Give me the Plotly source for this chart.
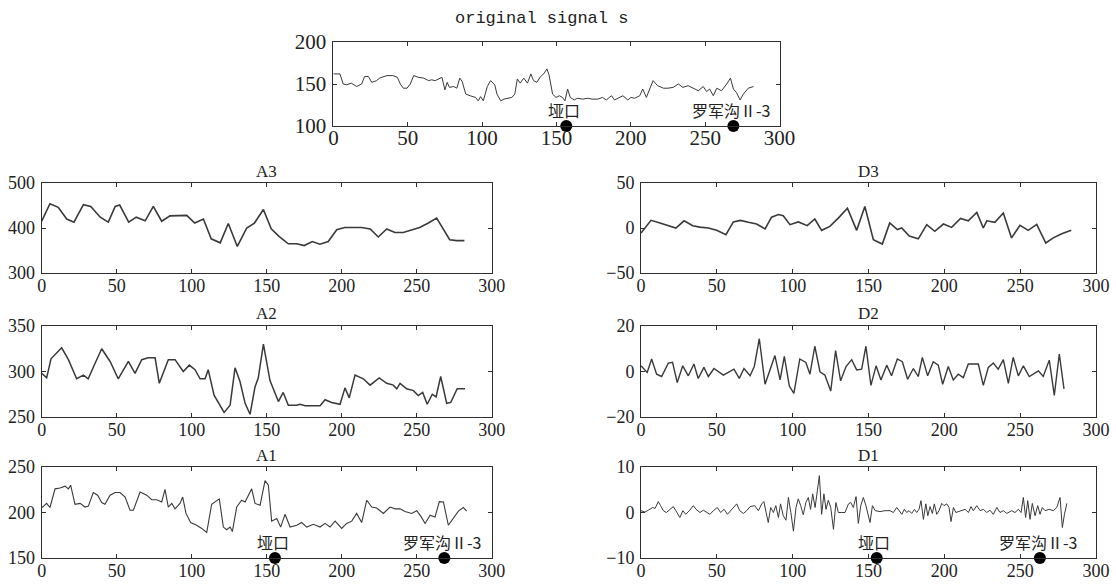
import plotly.graph_objects as go

W, H = 1116, 588

# ---------------- data ----------------
s_x = [0, 4.4, 6.6, 9, 12, 15.7, 19, 21, 23.5, 25.8, 29, 31, 36, 40, 43, 45, 47, 49.5, 51.7, 54, 57,
       60.7, 64, 66, 68.5, 71, 73, 75, 76.5, 78, 81, 83, 85, 86.6, 89, 92, 95.6, 97.4, 99, 100.8,
       103.5, 105.7, 108.5, 110, 112.5, 114.7, 118, 120, 122, 123.7, 125.6, 128, 130.5, 132.8,
       134.6, 136.8, 139, 141.8, 143.6, 145, 147.4, 149.7, 152, 154, 155.7, 157.5, 159.3, 162,
       164, 167.7, 171, 174, 177.8, 181, 183.5, 187, 189, 192.4, 194.7, 198, 200, 202.6, 206,
       208, 210.5, 212.7, 215, 218, 222, 225, 228.5, 232, 235, 238.6, 243, 245.4, 248.7, 251,
       253, 255.5, 257.8, 261, 264.5, 267, 269, 271, 273.5, 275.7, 279, 282.5]
s_y = [162, 162, 150, 149, 151, 147, 150, 159, 159, 152, 154, 157, 160, 160, 158, 150, 145, 145,
       150, 160, 158, 157, 154, 155, 154, 156, 158, 143, 152, 146, 147, 145, 157, 153, 138, 136,
       134, 130, 135, 130, 147, 154, 149, 138, 130, 132, 133, 134, 138, 156, 151, 157, 151, 162,
       154, 152, 158, 163, 168, 161, 138, 134, 136, 134, 130, 144, 134, 131, 133, 132, 133, 132,
       132, 134, 131, 136, 131, 134, 136, 131, 134, 133, 136, 144, 134, 144, 154, 148, 145, 145,
       146, 150, 146, 148, 144, 142, 147, 141, 144, 136, 145, 142, 150, 157, 144, 140, 131, 138,
       145, 147]

a3_x = [0, 5.5, 11, 16.7, 21.5, 27.8, 32.7, 39, 44.4, 49, 52, 58, 63, 69, 74.4, 80, 85.5, 91,
        96.7, 102, 107.8, 113, 119, 124.4, 130.4, 136.7, 141.8, 147.8, 153, 158.4, 164.4, 170,
        175, 180.4, 185.5, 191, 196.7, 202, 207.8, 213.3, 219, 224.4, 230, 235.5, 241, 246.7,
        252, 257.8, 263.3, 272, 276.7, 281.8]
a3_y = [415, 454, 446, 420, 413, 452, 448, 424, 413, 448, 451, 413, 424, 416, 448, 415, 427, 428,
        428, 411, 420, 376, 367, 410, 359, 400, 411, 441, 398, 381, 365, 365, 361, 370, 364, 370,
        396, 401, 401, 401, 398, 380, 398, 390, 390, 396, 401, 411, 422, 374, 372, 372]

d3_x = [0, 6.6, 12.5, 18.0, 23.0, 28.4, 34.1, 38.8, 44.4, 49.9, 56.0, 60.9, 65.6, 70.8, 76.2,
        81.8, 86.1, 90.6, 93.8, 98.2, 103.7, 109.6, 114.6, 119.1, 124.5, 130.1, 136.1, 142.2,
        147.6, 153.2, 159.1, 164.0, 169.0, 171.9, 176.9, 182.8, 188.4, 193.7, 199.4, 204.8,
        210.7, 215.8, 221.4, 225.7, 228.0, 233.3, 238.9, 244.3, 249.9, 255.3, 260.9, 266.9,
        271.8, 277.4, 283.7]
d3_y = [-5.6, 8.5, 5.6, 3, 0, 8, 2.6, 1, 0, -2.6, -7.4, 6.7, 8.5, 6.3, 4.4, -1, 12, 15, 13.7,
        3.7, 6.7, 2.6, 10, -2.6, 1.8, 11, 22, -2.6, 24, -13, -17.8, 5.6, -1.8, 0, -9, -12, 3.7,
        -3.7, 4.4, 0.7, 10.7, 8, 17.4, 0, 8, 6.3, 16.7, -11, 3, -2.6, 4, -16.7, -11, -6.3, -2.6]

a2_x = [0, 3.3, 6.2, 13.3, 17.8, 23.3, 27.8, 31, 35.6, 40, 45.6, 51, 57.8, 62.2, 66.7, 71, 75.6,
        78.4, 84.4, 88.9, 94.4, 98.4, 102.2, 105.6, 108.9, 111, 114.9, 121.6, 125.6, 128.9,
        132.2, 135.6, 138.9, 142.2, 144.4, 147.8, 152.2, 157.8, 161, 164.4, 170, 172.2, 175.6,
        185.6, 188.9, 193.3, 198.9, 202.2, 205, 208.9, 214.4, 218.9, 225, 230, 234.4, 236.7,
        238.9, 243.3, 247.8, 251, 254, 257, 260.4, 262.9, 266, 270, 272.7, 277, 282.2]
a2_y = [298, 293, 314, 326, 313, 292, 296, 292, 309, 325, 311, 292, 311, 298, 313, 315, 315, 287,
        313, 313, 300, 307, 302, 292, 292, 302, 274, 255, 263, 304, 289, 265, 253, 283, 293, 330,
        290, 267, 277, 263, 263, 264, 262.5, 262.5, 269, 266, 264, 282, 271, 296, 292, 285, 293,
        287, 285, 281, 287, 281, 279, 273.5, 277, 264, 275, 272, 294.5, 265, 266, 281, 281]

d2_x = [0, 4.1, 7.0, 10.3, 13.6, 18.0, 20.8, 23.9, 27.5, 31.2, 34.9, 37.7, 41.5, 44.4, 48.1, 54.3,
        61.3, 64.8, 67.9, 71.9, 74.7, 78.0, 81.8, 88.3, 91.7, 94.5, 97.8, 100.8, 104.7, 108.7,
        111.4, 114.6, 118.0, 121.3, 125.1, 128.3, 131.6, 135.2, 138.9, 142.2, 145.5, 148.3,
        151.6, 155.0, 158.2, 162.0, 165.2, 169.0, 172.3, 175.8, 179.6, 182.8, 185.5, 189.0,
        192.7, 196.0, 198.9, 202.6, 205.9, 209.2, 212.5, 215.8, 222.4, 225.7, 229.0, 232.3,
        235.5, 238.9, 242.2, 245.4, 248.8, 252.1, 256.0, 262.0, 265.2, 269.2, 272.5, 275.8, 278.9]
d2_y = [2.5, -0.4, 5.5, -1.2, -2.2, 3.7, 4, -4.9, 2.5, -1.9, 3.3, -3.1, 1.8, -2.2, 1.3, -1.6, 1,
        -3, 1.3, -1.9, 2.2, 14.4, -5.6, 7, -3.7, 6.7, -6.4, -9.6, 5.5, 4, -1.2, 11.1, -0.1, -1.6,
        -8.6, 9.2, -4.1, 2.2, 5.2, 0.7, 1, 11.1, -6.1, 2.5, -3.7, 2.8, -1.9, 5.5, 4.3, -3.4, 1.3,
        -2.2, 6.2, -1.9, 4.3, 2.8, -5.6, 2.2, -3.7, -1.2, -2.7, 3.3, 3.3, -6.1, 1.8, 3.7, 1, 5.2,
        -5.2, 6.2, -1.9, 2.5, -2.2, 0.3, -2.2, 5, -10.5, 7.7, -7.6]

a1_x = [0, 3.3, 5.5, 8.9, 12.2, 15.6, 17.8, 19.3, 22.2, 25.6, 28.9, 31.1, 34.4, 37.3, 40, 42.2,
        45.6, 48.9, 52.2, 55.6, 58.9, 61.1, 65.6, 70, 73.3, 76.7, 80, 82.2, 84.4, 86.7, 88.9,
        92.2, 94, 96.2, 99.3, 103.3, 106.7, 110, 113.3, 116.7, 118.4, 121.1, 123.3, 125.6, 127.1,
        130, 133.3, 135.6, 137.8, 140, 142.2, 145.6, 148.9, 151.1, 153.3, 156.7, 159.3, 162.2,
        165.6, 170, 173.3, 176.7, 181.1, 185.6, 188.9, 192.2, 195.6, 200, 203.3, 206.7, 210,
        213.3, 216.7, 220, 223.3, 227.8, 232.2, 235.6, 238.9, 242.2, 246.7, 250, 252.7, 255.6,
        258.9, 262.2, 265.1, 267.8, 271.1, 274.4, 277.8, 281.1, 283.3]
a1_y = [205, 210, 205.5, 226, 227, 229, 226, 230, 209, 210, 206, 207, 222, 219, 211, 209, 219,
        222, 222, 217, 202.5, 202.5, 222.5, 219, 214, 214, 211.6, 225.5, 206, 210, 204, 210, 217,
        199, 189, 186, 182.5, 178, 209, 213.5, 215, 184, 181, 184, 179, 206, 213.5, 211.6, 219,
        226, 210, 208, 235, 230, 190.5, 193.5, 184, 198, 184, 186, 189, 184, 187, 184, 188, 184,
        190.5, 182.5, 188, 190.5, 199, 189, 213.5, 206, 205, 199, 206, 204, 204, 201, 199, 202,
        196, 188, 197, 195, 212, 211.6, 186, 193.5, 201.5, 205.5, 201.5]

d1_x = [0, 2.6, 4.8, 7.7, 9.3, 11.4, 12.9, 14.7, 16.7, 18.7, 21.3, 23.0, 25.6, 27.6, 29.5, 31.9,
        34.5, 36.3, 38.9, 41.1, 43.4, 45.4, 48.1, 50.3, 52.5, 54.8, 57.0, 59.2, 61.3, 63.1, 65.1,
        67.5, 69.7, 71.9, 75.0, 77.4, 79.6, 81.0, 82.5, 83.9, 85.5, 87.3, 88.9, 90.6, 92.0, 93.8,
        95.6, 97.2, 98.8, 100.5, 102.2, 103.7, 105.3, 107.0, 108.7, 110.3, 111.8, 113.2, 114.8,
        116.3, 117.6, 119.1, 120.6, 122.0, 123.5, 125.1, 126.9, 128.5, 130.1, 132.4, 134.5,
        136.8, 138.3, 140.0, 141.8, 143.3, 144.9, 146.6, 148.3, 151.0, 152.6, 154.4, 157.6,
        160.9, 164.2, 166.4, 168.6, 170.2, 172.0, 173.6, 175.2, 176.7, 178.5, 180.3, 181.8,
        183.3, 184.6, 186.2, 187.8, 189.1, 190.6, 192.1, 193.4, 195.0, 196.5, 198.3, 199.8,
        201.6, 203.1, 204.4, 206.0, 207.6, 209.2, 211.5, 213.7, 215.9, 217.6, 219.1, 221.4,
        223.6, 225.8, 227.9, 230.1, 232.3, 234.6, 236.7, 238.9, 241.2, 244.4, 246.6, 248.8,
        250.6, 252.1, 253.6, 255.0, 256.5, 258.0, 259.8, 261.6, 263.1, 264.6, 266.4, 269.1,
        271.8, 274.1, 276.3, 277.8, 279.2, 280.8]
d1_y = [0.4, 0.1, 0.5, 1.1, 0.9, 2.4, 1.5, 0.4, 0, 0.5, 1.3, 0.4, -1.1, 0.4, -0.4, 0.4, 1.5, 0.7,
        0, 0.5, 0, -0.4, 0.5, 1.1, 0, 0.7, -0.4, 0.5, 1.1, 1.9, 0.4, -0.2, 0.4, 1.3, 1.5, 0.4,
        1.9, 2.4, 0, -2.2, 1.1, 0, 1.5, -1.1, 1.9, -0.7, -1.7, 3.3, 0, -4.1, 1.1, 3, 1.5, -0.5,
        2.2, 3.3, 0.7, 4.1, 1.1, 5.2, 8.1, -0.4, 4.1, 0.7, 2.7, 1.1, -3.7, 2.2, 0, 0, 0, 1.9,
        2.2, 1.1, 3.5, -2.4, 1.5, 3.3, 1.5, -2.2, 1.5, 0.4, 0.2, 0.4, 0.4, 0, 1.1, 0.4, -0.4,
        0.7, 0, 0.4, -0.2, 0.7, 0, 0.7, 2.6, -1.5, 1.9, -0.7, 1.3, -0.2, 1.9, -0.4, 0.4, 2, 1.5,
        1.9, 1.1, -2, 1.1, 0, 0.2, 0.4, 0.7, 0, 1.3, 0.4, 1.5, 0.4, 0.7, 0, 0.5, -0.4, 1.1, 0,
        0.4, -0.2, 0.4, 0, 0.7, 0, 3.3, -1.1, 2.6, -1.5, 2, -0.7, 1.5, -0.4, 1.1, 0.4, 0.7, 0.4,
        1.1, 3.3, -3.3, -0.4, 2]

site_names = ["垭口", "罗军沟Ⅱ-3"]
s_site_x = [156.6, 269]
a1_site_x = [155.5, 268.4]
d1_site_x = [155.4, 263]

x_ticks = [0, 50, 100, 150, 200, 250, 300]

# ---------------- layout geometry (pixels) ----------------
def px_x(a, b):
    return [a / W, b / W]

def px_y(top, bottom):
    return [1 - bottom / H, 1 - top / H]

panels = [
    ("s", s_x, s_y, px_x(333.4, 779.5), px_y(42, 126), [100, 200], [100, 150, 200], 1.0, 21, -7),
    ("A3", a3_x, a3_y, px_x(41.7, 491.7), px_y(183, 273), [300, 500], [300, 400, 500], 1.6, 18, -4),
    ("D3", d3_x, d3_y, px_x(641, 1096), px_y(183, 273), [-50, 50], [-50, 0, 50], 1.6, 18, -4),
    ("A2", a2_x, a2_y, px_x(41.7, 491.7), px_y(326, 417), [250, 350], [250, 300, 350], 1.5, 18, -4),
    ("D2", d2_x, d2_y, px_x(641, 1096), px_y(326, 417), [-20, 20], [-20, 0, 20], 1.4, 18, -4),
    ("A1", a1_x, a1_y, px_x(41.7, 491.7), px_y(467, 558), [150, 250], [150, 200, 250], 1.1, 18, -4),
    ("D1", d1_x, d1_y, px_x(641, 1096), px_y(467, 558), [-10, 10], [-10, 0, 10], 1.0, 18, -4),
]

LINE = "#3a3a3a"
AX = "#2e2e2e"

fig = go.Figure()
layout = dict(
    width=W, height=H, autosize=False, margin=dict(l=0, r=0, t=0, b=0, pad=0),
    paper_bgcolor="white", plot_bgcolor="white", showlegend=False,
    annotations=[],
)

for i, (name, xs, ys, xd, yd, yr, yt, lw, fs, xstand) in enumerate(panels):
    n = "" if i == 0 else str(i + 1)
    tickfont = dict(family="Liberation Serif, Times New Roman, serif", size=fs, color="#222")
    fig.add_trace(go.Scatter(x=xs, y=ys, mode="lines", line=dict(color=LINE, width=lw),
                             xaxis="x" + n, yaxis="y" + n, hoverinfo="skip"))
    common = dict(showline=True, linecolor=AX, linewidth=1, mirror="ticks", ticks="inside",
                  ticklen=4, tickcolor=AX, showgrid=False, zeroline=False, tickfont=tickfont,
                  automargin=False)
    layout["xaxis" + n] = dict(domain=xd, range=[0, 300], tickvals=x_ticks,
                               anchor="y" + n, ticklabelstandoff=xstand, **common)
    layout["yaxis" + n] = dict(domain=yd, range=yr, tickvals=yt, anchor="x" + n,
                               ticklabelstandoff=2, **common)
    if name == "s":
        layout["annotations"].append(dict(
            text="original signal s", xref="paper", yref="paper", x=541 / W, y=1 - 18 / H,
            showarrow=False, xanchor="center", yanchor="middle",
            font=dict(family="Liberation Mono, DejaVu Sans Mono, monospace", size=17, color="#222")))
    else:
        layout["annotations"].append(dict(
            text=name, xref="paper", yref="paper", x=(xd[0] + xd[1]) / 2,
            y=yd[1] + 12 / H, showarrow=False, xanchor="center", yanchor="middle",
            font=dict(family="Liberation Serif, serif", size=17, color="#222")))

cjk = dict(family="Noto Sans CJK SC, sans-serif", size=16, color="#222")
site_cfg = [("", s_site_x, 100), ("6", a1_site_x, 150), ("7", d1_site_x, -10)]
for n, sx, ybase in site_cfg:
    fig.add_trace(go.Scatter(x=sx, y=[ybase] * len(sx), mode="markers",
                             marker=dict(color="black", size=12), cliponaxis=False,
                             xaxis="x" + n, yaxis="y" + n, hoverinfo="skip"))
    for name, xv in zip(site_names, sx):
        layout["annotations"].append(dict(
            text=name, xref="x" + n, yref="y" + n, x=xv - 1.5, y=ybase, yshift=16,
            showarrow=False, xanchor="center", yanchor="middle", font=cjk))

fig.update_layout(**layout)
fig.write_html("out.html", config={"responsive": False, "displayModeBar": False},
               post_script="document.body.style.margin='0';document.body.style.overflow='hidden';")
